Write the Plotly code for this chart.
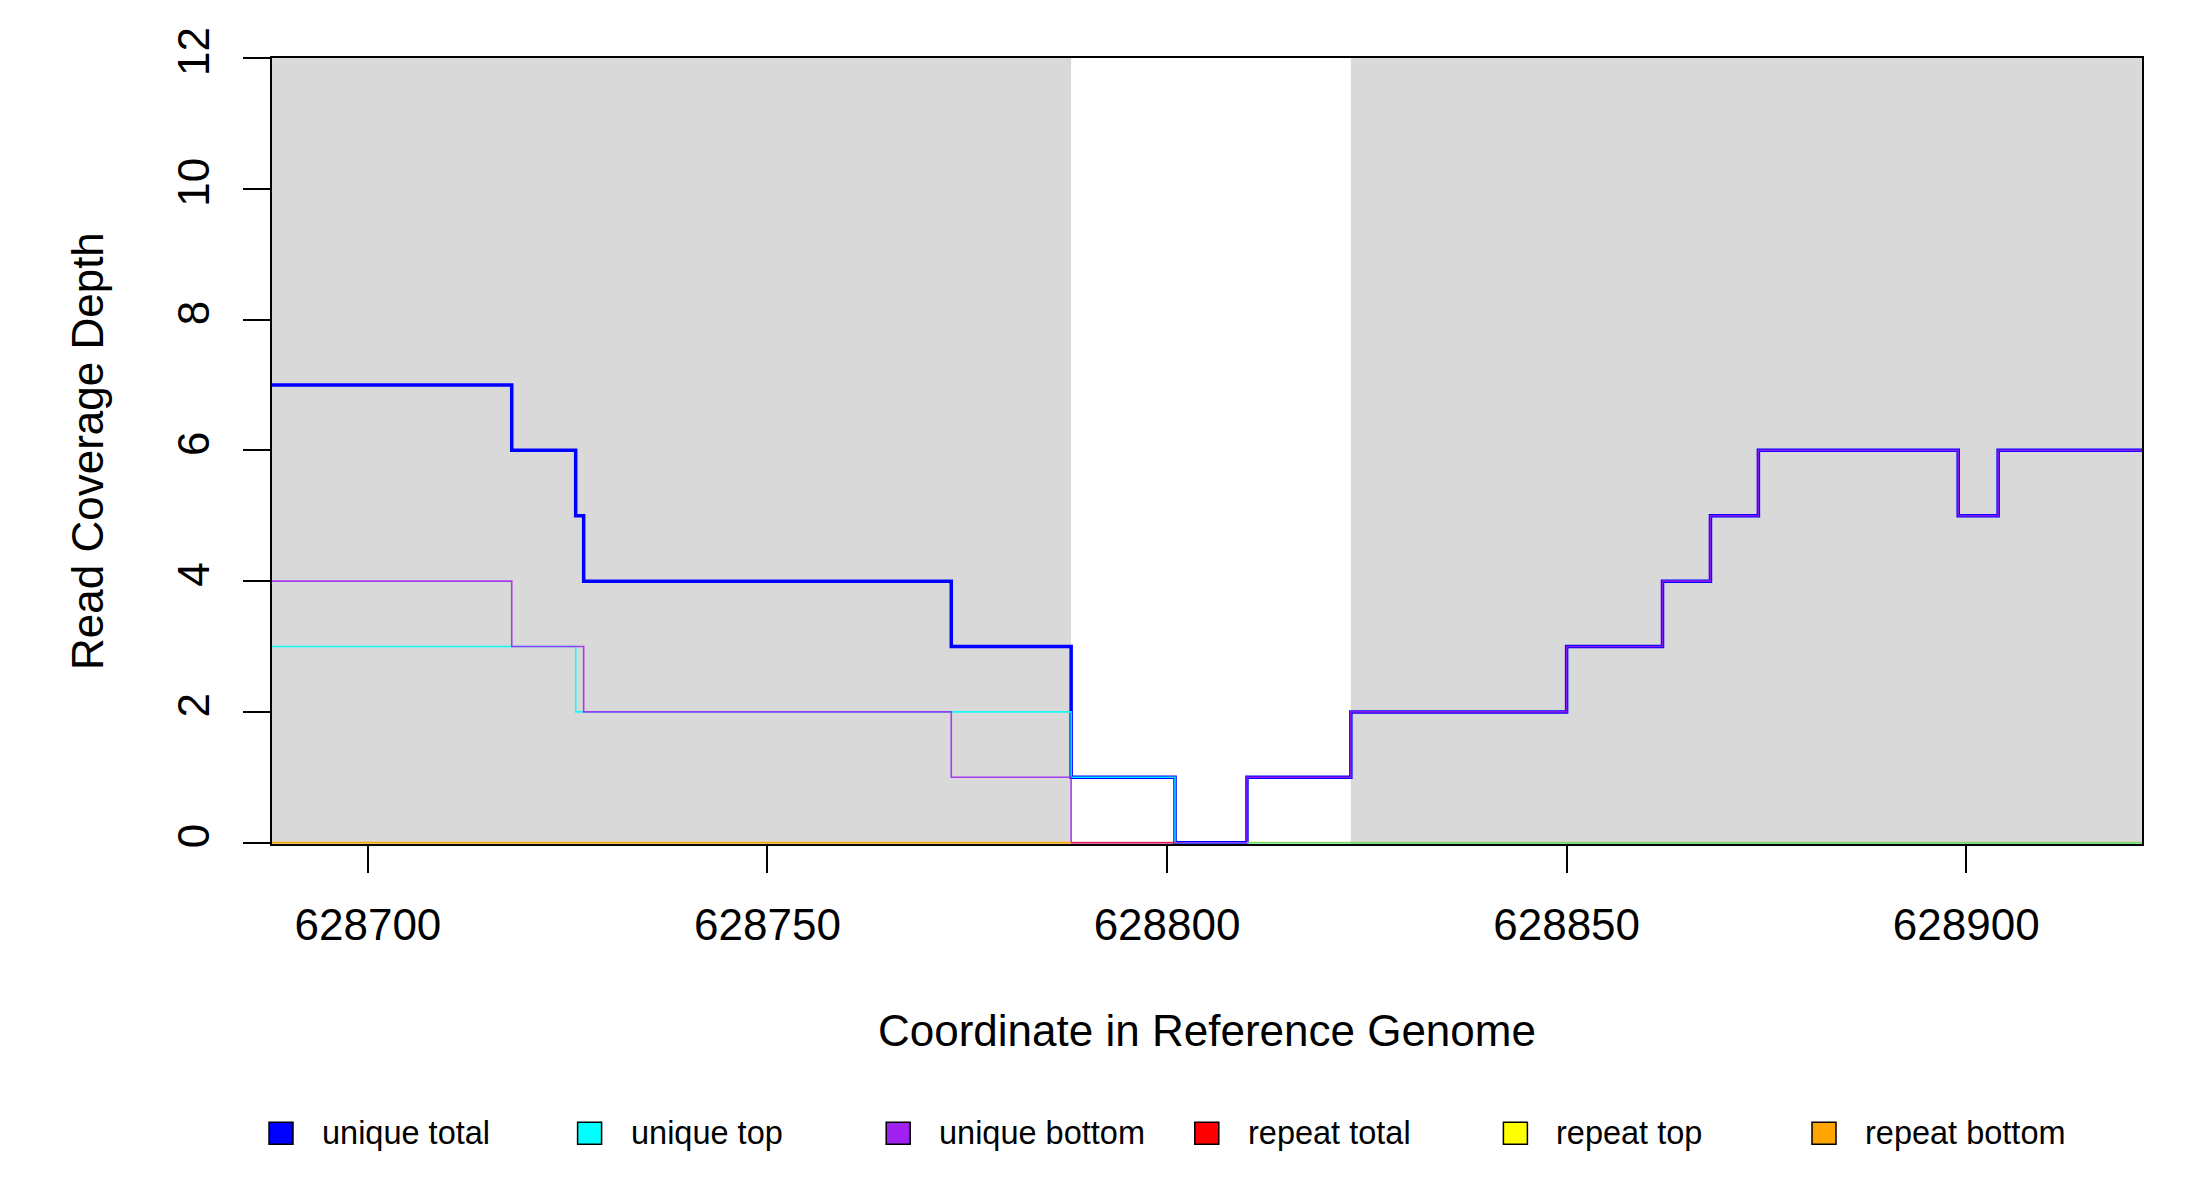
import plotly.graph_objects as go

# coverage steps (value holds from each x until the next x)
total_x = [628688, 628718, 628726, 628727, 628773, 628788, 628801, 628810,
           628823, 628850, 628862, 628868, 628874, 628899, 628904, 628922]
total_y = [7, 6, 5, 4, 3, 1, 0, 1, 2, 3, 4, 5, 6, 5, 6, 6]

top_x = [628688, 628726, 628788, 628801, 628922]
top_y = [3, 2, 1, 0, 0]

bottom_x = [628688, 628718, 628727, 628773, 628788, 628810, 628823, 628850,
            628862, 628868, 628874, 628899, 628904, 628922]
bottom_y = [4, 3, 2, 1, 0, 1, 2, 3, 4, 5, 6, 5, 6, 6]

rep_total_x = [628788, 628801]
rep_total_y = [0, 0]
rep_top_x = [628810, 628922]
rep_top_y = [0, 0]
rep_bottom_x = [628688, 628788]
rep_bottom_y = [0, 0]

# shaded regions
regions = [(628688, 628788), (628823, 628922)]

x_range = [628688, 628922]
x_ticks = [628700, 628750, 628800, 628850, 628900]
y_ticks = [0, 2, 4, 6, 8, 10, 12]

legend_names = ["unique total", "unique top", "unique bottom",
                "repeat total", "repeat top", "repeat bottom"]
legend_colors = ["blue", "cyan", "#A020F0", "red", "yellow", "orange"]

FONT = "Liberation Sans, Arial, sans-serif"

fig = go.Figure()

series = [
    (total_x, total_y, "blue", 3.5, 1.0),
    (top_x, top_y, "cyan", 1.6, 0.9),
    (bottom_x, bottom_y, "#A020F0", 1.6, 0.85),
    (rep_total_x, rep_total_y, "red", 1.8, 0.6),
    (rep_top_x, rep_top_y, "#9ACD32", 1.8, 0.8),
    (rep_bottom_x, rep_bottom_y, "orange", 1.8, 1.0),
]
for (xs, ys, col, w, op), name in zip(series, legend_names):
    fig.add_trace(go.Scatter(x=xs, y=ys, mode="lines", name=name,
                             line=dict(color=col, width=w, shape="hv"),
                             opacity=op, showlegend=False))

for x0, x1 in regions:
    fig.add_shape(type="rect", xref="x", yref="y", x0=x0, x1=x1, y0=-0.02, y1=12,
                  fillcolor="#D9D9D9", line=dict(width=0), layer="below")

# hand-made legend under the plot
plot_w, plot_h = 1870, 786
for i, (name, col) in enumerate(zip(legend_names, legend_colors)):
    cx = (281 + i * 308.6 - 272) / plot_w
    cy = -0.368
    fig.add_shape(type="rect", xref="paper", yref="paper",
                  xsizemode="pixel", ysizemode="pixel",
                  xanchor=cx, yanchor=cy, x0=-12, x1=12, y0=-11, y1=11,
                  fillcolor=col, line=dict(color="black", width=1.5))
    fig.add_annotation(x=cx + 39 / plot_w, y=cy, xref="paper", yref="paper",
                       text=name, showarrow=False, xanchor="left",
                       yanchor="middle", font=dict(size=32.5, color="black"))

fig.add_annotation(x=0.5, y=-0.237, xref="paper", yref="paper",
                   text="Coordinate in Reference Genome", showarrow=False,
                   xanchor="center", yanchor="middle",
                   font=dict(size=44, color="black"))
fig.add_annotation(x=(87 - 272) / plot_w, y=0.5, xref="paper", yref="paper",
                   text="Read Coverage Depth", showarrow=False, textangle=-90,
                   xanchor="center", yanchor="middle",
                   font=dict(size=44, color="black"))

fig.update_layout(
    width=2200, height=1200,
    margin=dict(l=264, r=66, t=50, b=364, autoexpand=False),
    plot_bgcolor="white", paper_bgcolor="white",
    font=dict(family=FONT, color="black"),
    xaxis=dict(range=x_range, tickvals=x_ticks, ticktext=[str(v) for v in x_ticks],
               ticks="outside", ticklen=27, tickwidth=1.5, tickcolor="black",
               showline=True, mirror=True, linecolor="black", linewidth=1.5,
               showgrid=False, zeroline=False, tickfont=dict(size=44),
               ticklabelstandoff=14, layer="below traces"),
    yaxis=dict(range=[-0.02, 12], tickvals=y_ticks, ticks="outside", ticklen=27,
               tickwidth=1.5, tickcolor="black", tickangle=-90,
               showline=True, mirror=True, linecolor="black", linewidth=1.5,
               showgrid=False, zeroline=False, tickfont=dict(size=44),
               ticklabelstandoff=17, layer="below traces"),
)

fig.write_html("out.html")
